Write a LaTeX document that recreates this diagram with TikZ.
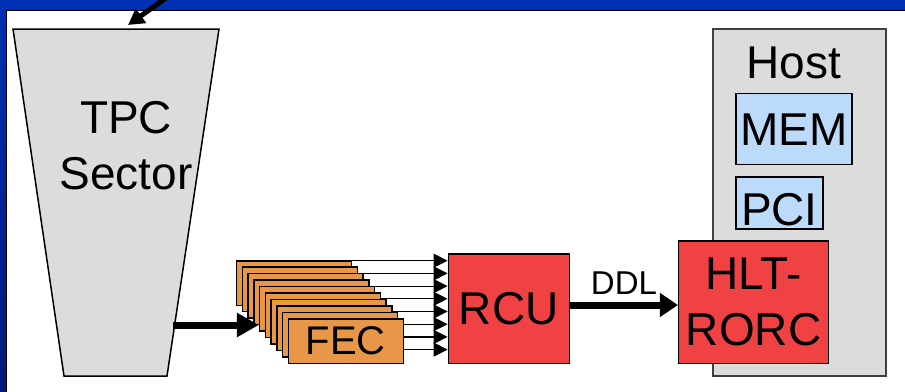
\documentclass[tikz,border=0pt]{standalone}
\usepackage{fontspec}
\setmainfont{Liberation Sans}
\usepackage{tikz}
\usetikzlibrary{positioning,arrows.meta}
\definecolor{slideblue}{RGB}{0,48,180}
\definecolor{slidenavy}{RGB}{0,26,120}
\definecolor{sectorgray}{RGB}{220,220,220}
\definecolor{fecorange}{RGB}{232,150,72}
\definecolor{rcured}{RGB}{240,66,66}
\definecolor{memblue}{RGB}{188,218,250}
\newcommand{\slidefont}{\fontsize{46}{56}\selectfont}

\begin{document}
\begin{tikzpicture}[
    x=1pt, y=-1pt,
    box/.style={
        draw,
        line width=1.5pt,
        inner sep=0pt,
        align=center,
        font=\slidefont
    },
    fecbox/.style={
        box,
        fill=fecorange,
        minimum width=115pt,
        minimum height=44.5pt,
        font=\fontsize{40}{48}\selectfont
    },
    fat arrow/.style={
        -{Triangle[length=22pt,width=23pt]},
        line width=7pt
    },
    thin arrow/.style={
        -{Triangle[length=14pt,width=14pt]},
        line width=1.2pt
    }
]
\useasboundingbox (0,0) rectangle (905,391);
\clip (0,0) rectangle (905,391);
\fill[slideblue] (0,0) rectangle (905,10);
\shade[top color=slideblue, bottom color=slidenavy] (0,0) rectangle (6,391);
\draw[line width=1pt, fill=white] (6,10) rectangle (920,400);

\draw[line width=1.5pt, fill=sectorgray] (13,29) -- (219,29) -- (167,376) -- (64,376) -- cycle;
\node[font=\slidefont, align=center, inner sep=0pt] (TPC) at (126,145.5) {TPC\\Sector};
\coordinate (feed) at (166,-2);
\coordinate (sectortop) at (128,25);
\coordinate (sectorout) at (173,325);
\draw[-{Triangle[length=16pt,width=17pt]}, line width=5pt] (feed) -- (sectortop);

\node[box, fill=rcured, minimum width=121pt, minimum height=109.3pt] (RCU) at (508.8,308.7) {RCU};
\foreach \i in {0,...,7} {
    \coordinate (fan\i) at (350,{260.7+12.7*\i});
    \draw[thin arrow] (fan\i) -- (fan\i -| RCU.west);
}
\foreach \i in {0,...,8} {
    \node[fecbox] (FEC\i) at ({294.2+5.73*\i},{283+6.44*\i}) {};
}
\node[fecbox] (FEC) at (345.8,341) {FEC};
\draw[fat arrow] (sectorout) -- (sectorout -| FEC4.west);

\node[box, draw=black!75, fill=sectorgray, minimum width=173pt, minimum height=347pt] (Host) at (799.5,202.5) {};
\node[font=\slidefont, inner sep=0pt] (hostname) at (794,63) {Host};
\node[box, fill=memblue, minimum width=115.7pt, minimum height=71pt] (MEM) at (793.9,129.2) {MEM};
\node[box, fill=memblue, minimum width=86.7pt, minimum height=52pt, text height=46pt] (PCI) at (779.4,203) {PCI};
\node[box, fill=rcured, minimum width=149.6pt, minimum height=122.3pt] (HLT) at (753.5,302.2) {HLT-\\RORC};

\draw[-{Triangle[length=18pt,width=23pt]}, line width=7pt] ([yshift=3.7pt]RCU.east) -- ([yshift=3.7pt]RCU.east -| HLT.west)
    node[midway, above, inner sep=7pt, font=\fontsize{33}{40}\selectfont] (ddl) {DDL};
\end{tikzpicture}
\end{document}
